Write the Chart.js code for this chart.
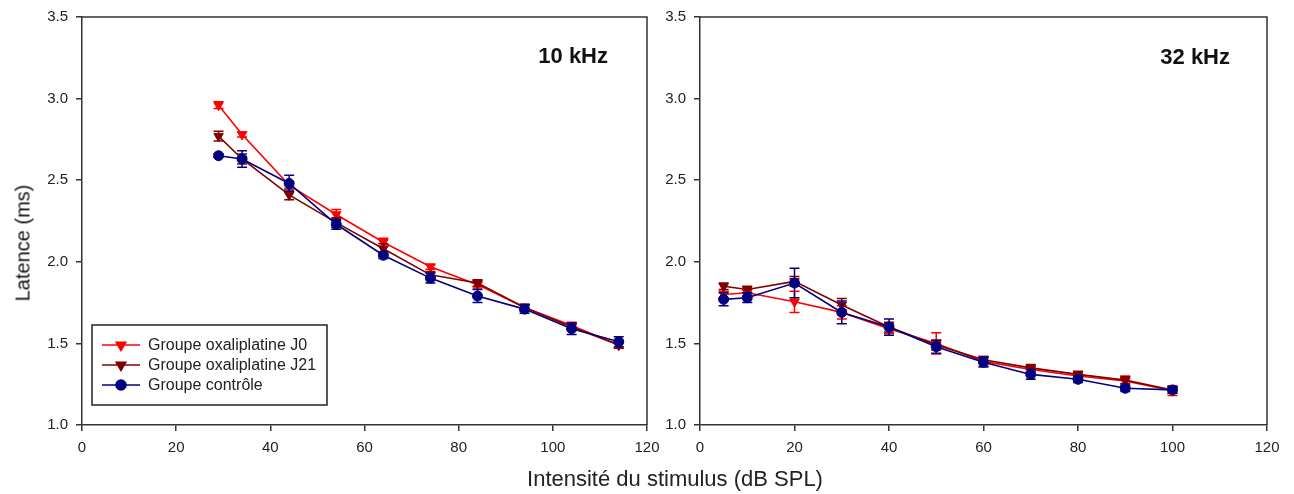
<!DOCTYPE html>
<html>
<head>
<meta charset="utf-8">
<script src="https://cdn.jsdelivr.net/npm/chart.js@4/dist/chart.umd.min.js"></script>
<style>
html,body{margin:0;padding:0;background:#fff;width:1294px;height:494px;overflow:hidden;font-family:"Liberation Sans",Arial,sans-serif;}
#wrapL{position:absolute;left:0;top:0;width:660px;height:494px;}
#wrapR{position:absolute;left:660px;top:0;width:634px;height:494px;}
#xtitle{position:absolute;left:0;width:1350px;top:466px;text-align:center;font-size:22px;color:#222;white-space:nowrap;}
#ytitle{position:absolute;left:23px;top:243px;transform:translate(-50%,-50%) rotate(-90deg);font-size:20px;color:#111;white-space:nowrap;}
</style>
</head>
<body>
<div id="wrapL"><canvas id="cL" width="660" height="494"></canvas></div>
<div id="wrapR"><canvas id="cR" width="634" height="494"></canvas></div>
<div id="xtitle">Intensité du stimulus (dB SPL)</div>
<div id="ytitle">Latence (ms)</div>
<script>
// ---- data ----
const seriesNames = ["Groupe oxaliplatine J0", "Groupe oxaliplatine J21", "Groupe contrôle"];
const xTicks = [0, 20, 40, 60, 80, 100, 120];
const yTicks = [1.0, 1.5, 2.0, 2.5, 3.0, 3.5];

// 10 kHz
const x10 = [29, 34, 44, 54, 64, 74, 84, 94, 104, 114];
const j0_10 = [2.96, 2.78, 2.47, 2.29, 2.12, 1.97, 1.86, 1.72, 1.61, 1.49];
const j0_10err = [0.02, 0.015, 0.02, 0.03, 0.025, 0.015, 0.02, 0.02, 0.02, 0.02];
const j21_10 = [2.77, 2.63, 2.41, 2.24, 2.08, 1.92, 1.87, 1.72, 1.60, 1.49];
const j21_10err = [0.03, 0.03, 0.03, 0.03, 0.03, 0.02, 0.02, 0.02, 0.02, 0.02];
const ctl_10 = [2.65, 2.63, 2.48, 2.23, 2.04, 1.90, 1.79, 1.71, 1.59, 1.51];
const ctl_10err = [0.01, 0.05, 0.05, 0.03, 0.02, 0.03, 0.04, 0.025, 0.035, 0.03];

// 32 kHz
const x32 = [5, 10, 20, 30, 40, 50, 60, 70, 80, 90, 100];
const j0_32 = [1.80, 1.81, 1.755, 1.69, 1.59, 1.50, 1.39, 1.34, 1.30, 1.27, 1.21];
const j0_32err = [0.02, 0.02, 0.065, 0.04, 0.03, 0.065, 0.03, 0.02, 0.02, 0.03, 0.03];
const j21_32 = [1.85, 1.83, 1.88, 1.735, 1.60, 1.49, 1.40, 1.35, 1.31, 1.275, 1.215];
const j21_32err = [0.02, 0.02, 0.03, 0.04, 0.03, 0.03, 0.02, 0.02, 0.02, 0.02, 0.02];
const ctl_32 = [1.77, 1.78, 1.87, 1.69, 1.60, 1.48, 1.385, 1.31, 1.28, 1.225, 1.215];
const ctl_32err = [0.04, 0.03, 0.09, 0.07, 0.05, 0.04, 0.03, 0.03, 0.02, 0.02, 0.02];

// ---- styles ----
const colors = ["#ff0000", "#800000", "#000080"];
const shapes = ["triangle", "triangle", "circle"];
const rotations = [180, 180, 0];
const AXC = "#333333";
const TICKC = "#222222";
const FONT = "'Liberation Sans', Arial, sans-serif";

function pts(xs, ys){ return xs.map((x,i)=>({x:x, y:ys[i]})); }

function makeDatasets(xs, series, errs){
  return series.map((ys, k) => ({
    label: seriesNames[k],
    data: pts(xs, ys),
    errors: errs[k],
    borderColor: colors[k],
    backgroundColor: colors[k],
    pointBackgroundColor: colors[k],
    pointBorderColor: colors[k],
    pointStyle: shapes[k],
    pointRotation: rotations[k],
    pointRadius: k === 2 ? 5 : 5.5,
    pointBorderWidth: 1,
    borderWidth: 1.6,
    tension: 0,
    order: 3 - k
  }));
}

const errorBars = {
  id: 'errorBars',
  beforeDatasetDraw(chart, args){
    const ds = chart.data.datasets[args.index];
    if (!ds.errors) return;
    const xs = chart.scales.x, ys = chart.scales.y, ctx = chart.ctx;
    ctx.save();
    ctx.strokeStyle = ds.borderColor;
    ctx.lineWidth = 1.5;
    ds.data.forEach((p, i) => {
      const e = ds.errors[i];
      const px = xs.getPixelForValue(p.x);
      const y1 = ys.getPixelForValue(p.y + e);
      const y2 = ys.getPixelForValue(p.y - e);
      ctx.beginPath();
      ctx.moveTo(px, y1); ctx.lineTo(px, y2);
      ctx.moveTo(px - 5, y1); ctx.lineTo(px + 5, y1);
      ctx.moveTo(px - 5, y2); ctx.lineTo(px + 5, y2);
      ctx.stroke();
    });
    ctx.restore();
  }
};

const frame = {
  id: 'frame',
  afterDraw(chart){
    const a = chart.chartArea, ctx = chart.ctx;
    ctx.save();
    ctx.strokeStyle = AXC; ctx.lineWidth = 1.5;
    ctx.beginPath();
    ctx.moveTo(a.left, a.top); ctx.lineTo(a.right, a.top); ctx.lineTo(a.right, a.bottom);
    ctx.stroke();
    const o = chart.options.plugins.frame || {};
    if (o.label){
      ctx.fillStyle = "#111";
      ctx.font = "bold 22px " + FONT;
      ctx.textAlign = "right"; ctx.textBaseline = "middle";
      ctx.fillText(o.label, o.labelX, o.labelY);
    }
    if (o.legend){
      const lg = o.legend;
      ctx.strokeStyle = "#222"; ctx.lineWidth = 1.5;
      ctx.strokeRect(lg.x, lg.y, lg.w, lg.h);
      ctx.font = "16px " + FONT;
      ctx.textAlign = "left"; ctx.textBaseline = "middle";
      chart.data.datasets.slice().sort((a,b)=>b.order-a.order).forEach((ds, i) => {
        const yy = lg.y + lg.rowStart + i * lg.rowGap;
        ctx.strokeStyle = ds.borderColor; ctx.lineWidth = 1.6;
        ctx.beginPath(); ctx.moveTo(lg.x + 10, yy); ctx.lineTo(lg.x + 48, yy); ctx.stroke();
        ctx.fillStyle = ds.borderColor;
        Chart.helpers.drawPoint(ctx, {pointStyle: ds.pointStyle, rotation: ds.pointRotation, radius: ds.pointRadius, borderWidth: 1}, lg.x + 29, yy);
        ctx.fill();
        ctx.fillStyle = "#222";
        ctx.fillText(ds.label, lg.x + 56, yy + 1);
      });
    }
    ctx.restore();
  }
};

function makeChart(id, datasets, yWidth, padRight, frameOpts){
  return new Chart(document.getElementById(id), {
    type: 'line',
    data: { datasets: datasets },
    plugins: [errorBars, frame],
    options: {
      responsive: false,
      animation: false,
      events: [],
      layout: { padding: { top: 17, right: padRight, bottom: 0, left: 0 } },
      plugins: { legend: { display: false }, tooltip: { enabled: false }, frame: frameOpts },
      scales: {
        x: {
          type: 'linear', min: xTicks[0], max: xTicks[xTicks.length-1],
          afterBuildTicks(s){ s.ticks = xTicks.map(v => ({value: v})); },
          afterFit(s){ s.height = 69; s.paddingLeft = 0; s.paddingRight = 0; },
          border: { display: true, color: AXC, width: 1.5 },
          grid: { drawOnChartArea: false, drawTicks: true, tickLength: 6, tickColor: AXC, lineWidth: 1.5 },
          ticks: { color: TICKC, font: { family: FONT, size: 15 }, padding: 8, maxRotation: 0 }
        },
        y: {
          type: 'linear', min: yTicks[0], max: yTicks[yTicks.length-1],
          afterBuildTicks(s){ s.ticks = yTicks.map(v => ({value: v})); },
          afterFit(s){ s.width = yWidth; s.paddingTop = 0; s.paddingBottom = 0; },
          border: { display: true, color: AXC, width: 1.5 },
          grid: { drawOnChartArea: false, drawTicks: true, tickLength: 6, tickColor: AXC, lineWidth: 1.5 },
          ticks: { color: TICKC, font: { family: FONT, size: 15 }, padding: 8, callback: v => v.toFixed(1) }
        }
      }
    }
  });
}

makeChart('cL', makeDatasets(x10, [j0_10, j21_10, ctl_10], [j0_10err, j21_10err, ctl_10err]), 82, 13,
  { label: "10 kHz", labelX: 608, labelY: 57, legend: { x: 92, y: 325, w: 235, h: 80, rowStart: 20, rowGap: 20 } });
makeChart('cR', makeDatasets(x32, [j0_32, j21_32, ctl_32], [j0_32err, j21_32err, ctl_32err]), 40, 27,
  { label: "32 kHz", labelX: 1230 - 660, labelY: 58 });
</script>
</body>
</html>
